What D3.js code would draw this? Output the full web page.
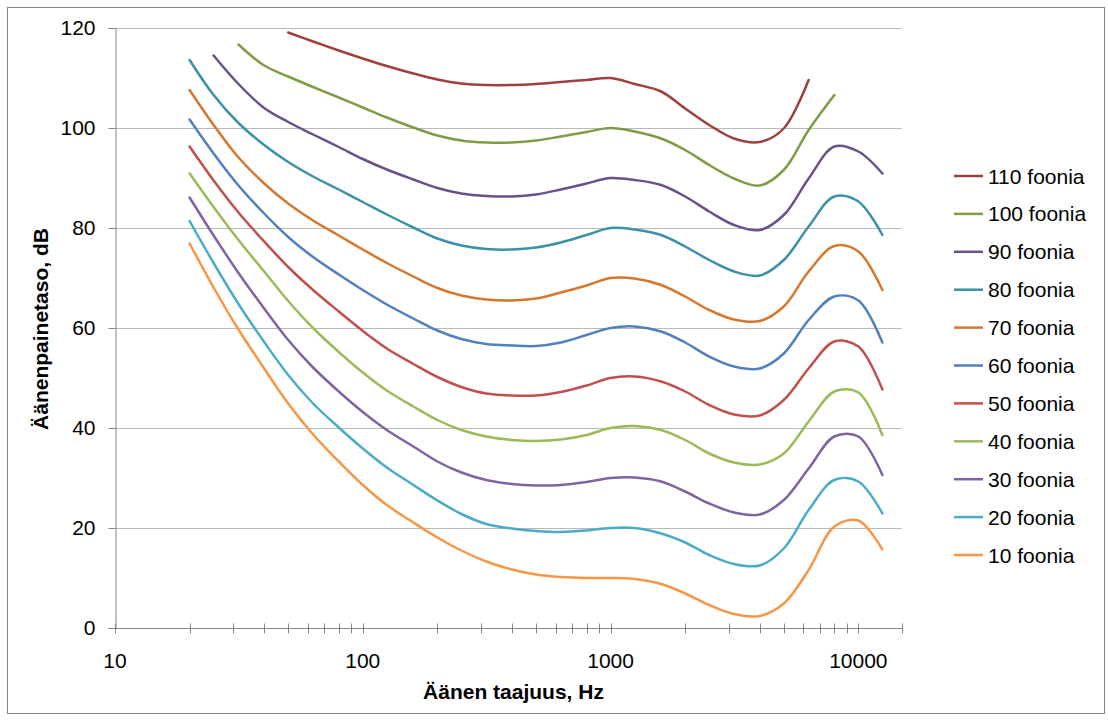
<!DOCTYPE html>
<html lang="fi">
<head>
<meta charset="UTF-8">
<title>Äänen kuuluvuuskäyrät</title>
<style>
  html, body { margin: 0; padding: 0; background: #fff; }
  svg { display: block; font-family: "Liberation Sans", Arial, sans-serif; }
</style>
</head>
<body>
<div id="chart"></div>
<script src="https://d3js.org/d3.v7.min.js"></script>
<script>
// taajuudet (Hz)
const freqs = [20, 25, 31.5, 40, 50, 63, 80, 100, 125, 160, 200, 250, 315, 400, 500, 630, 800,
               1000, 1250, 1600, 2000, 2500, 3150, 4000, 5000, 6300, 8000, 10000, 12500];

// äänenpainetaso (dB) kullekin foonikäyrälle
const phon110 = [null, null, null, null, 119.1, 117.3, 115.5, 113.9, 112.4, 110.9, 109.7, 108.9, 108.6, 108.6, 108.8, 109.2, 109.6,
                 110.0, 108.8, 107.3, 103.9, 100.6, 97.9, 97.2, 99.9, 109.6, null, null, null];
const phon100 = [null, null, 116.7, 112.5, 110.3, 108.2, 106.1, 104.1, 102.1, 100.1, 98.5, 97.5, 97.1, 97.1, 97.5, 98.3, 99.2,
                 100.0, 99.3, 97.9, 95.6, 92.6, 89.9, 88.5, 91.6, 99.6, 106.6, null, null];
const phon90 = [null, 114.5, 108.8, 104.0, 101.2, 98.7, 96.2, 93.8, 91.7, 89.7, 88.0, 86.9, 86.4, 86.3, 86.7, 87.7, 88.9,
                90.0, 89.6, 88.6, 86.3, 83.3, 80.6, 79.6, 82.6, 89.9, 96.3, 95.3, 90.9];
const phon80 = [113.6, 106.6, 101.0, 96.6, 93.2, 90.3, 87.7, 85.2, 82.7, 80.1, 77.9, 76.5, 75.8, 75.7, 76.1, 77.1, 78.6,
                80.0, 79.7, 78.6, 76.3, 73.6, 71.3, 70.5, 73.6, 80.3, 86.3, 85.3, 78.6];
const phon70 = [107.6, 100.6, 94.1, 88.9, 84.9, 81.5, 78.5, 75.7, 73.0, 70.3, 68.0, 66.5, 65.7, 65.5, 65.9, 67.1, 68.5,
                70.0, 69.9, 68.6, 66.3, 63.6, 61.7, 61.4, 64.3, 71.3, 76.4, 75.3, 67.6];
const phon60 = [101.7, 94.9, 88.5, 82.9, 78.2, 74.2, 70.7, 67.6, 64.7, 61.9, 59.5, 57.8, 56.8, 56.5, 56.4, 57.1, 58.6,
                60.0, 60.3, 59.3, 57.1, 54.3, 52.3, 51.9, 54.9, 61.6, 66.3, 65.5, 57.1];
const phon50 = [96.3, 89.5, 83.1, 77.3, 72.2, 67.6, 63.3, 59.4, 55.9, 52.8, 50.2, 48.2, 46.9, 46.5, 46.5, 47.2, 48.5,
                50.0, 50.3, 49.3, 47.3, 44.6, 42.7, 42.5, 45.6, 51.9, 57.3, 56.3, 47.7];
const phon40 = [90.9, 84.2, 77.6, 71.3, 65.4, 60.0, 55.2, 51.1, 47.5, 44.3, 41.6, 39.6, 38.3, 37.6, 37.4, 37.7, 38.6,
                40.0, 40.4, 39.6, 37.6, 34.9, 33.1, 32.7, 34.9, 41.3, 47.3, 47.1, 38.6];
const phon30 = [86.1, 78.5, 71.0, 63.9, 57.6, 52.1, 47.3, 43.2, 39.6, 36.3, 33.3, 31.1, 29.6, 28.8, 28.5, 28.6, 29.2,
                30.0, 30.1, 29.3, 27.3, 24.9, 23.1, 22.7, 25.6, 31.9, 38.3, 38.3, 30.6];
const phon20 = [81.4, 73.0, 64.8, 57.2, 50.6, 44.9, 40.1, 35.9, 32.1, 28.6, 25.5, 22.8, 20.8, 19.9, 19.4, 19.2, 19.5,
                20.0, 20.0, 18.9, 17.1, 14.6, 12.8, 12.5, 15.9, 23.6, 29.6, 29.3, 22.9];
const phon10 = [76.9, 68.1, 59.7, 51.9, 44.9, 38.7, 33.3, 28.6, 24.6, 21.1, 18.1, 15.5, 13.3, 11.7, 10.7, 10.2, 10.0,
                10.0, 9.8, 8.8, 6.9, 4.6, 2.8, 2.4, 4.9, 11.6, 20.3, 21.5, 15.7];

const seriesNames = ['110 foonia', '100 foonia', '90 foonia', '80 foonia', '70 foonia', '60 foonia',
                     '50 foonia', '40 foonia', '30 foonia', '20 foonia', '10 foonia'];
const seriesValues = [phon110, phon100, phon90, phon80, phon70, phon60, phon50, phon40, phon30, phon20, phon10];
const seriesColors = ['#a0403d', '#7e9c46', '#6a5189', '#3a91a8', '#d5782f', '#4f81bd',
                      '#c0504d', '#9bbb59', '#8064a2', '#4bacc6', '#f79646'];

const yTicks = [0, 20, 40, 60, 80, 100, 120];
const xLabels = [10, 100, 1000, 10000];

const width = 1108, height = 722;
const margin = { left: 115, top: 28, right: 206, bottom: 94 };

const svg = d3.select('#chart').append('svg')
  .attr('width', width)
  .attr('height', height);

// kehys
svg.append('rect')
  .attr('x', 7.5).attr('y', 7.5)
  .attr('width', 1097).attr('height', 706)
  .attr('fill', '#fff')
  .attr('stroke', '#868686')
  .attr('stroke-width', 1);

const x = d3.scaleLog()
  .domain([10, 15000])
  .range([margin.left, width - margin.right]);

const y = d3.scaleLinear()
  .domain([0, 120])
  .range([height - margin.bottom, margin.top]);

// vaakaviivat
svg.append('g')
  .selectAll('line')
  .data(yTicks.filter(d => d > 0))
  .join('line')
  .attr('x1', x.range()[0]).attr('x2', x.range()[1])
  .attr('y1', d => Math.round(y(d)) + 0.5).attr('y2', d => Math.round(y(d)) + 0.5)
  .attr('stroke', '#bababa')
  .attr('stroke-width', 1);

// y-akseli
const yAxis = d3.axisLeft(y)
  .tickValues(yTicks)
  .tickSize(7)
  .tickPadding(13)
  .tickFormat(d3.format('d'));

const gy = svg.append('g')
  .attr('transform', `translate(${margin.left + 0.5},0)`)
  .call(yAxis);
gy.select('.domain').attr('stroke', '#868686');
gy.selectAll('.tick line').attr('stroke', '#868686');
gy.selectAll('.tick text')
  .attr('fill', '#000')
  .style('font-size', '21px')
  .style('font-family', '"Liberation Sans", Arial, sans-serif');

// x-akseli, logaritminen
const minorTicks = [];
for (let dec = 10; dec <= 10000; dec *= 10) {
  for (let k = 1; k <= 9; k++) {
    if (dec * k <= 15000) minorTicks.push(dec * k);
  }
}
minorTicks.push(15000);

const gx = svg.append('g')
  .attr('transform', `translate(0,${y(0) + 0.5})`);
gx.append('line')
  .attr('x1', x.range()[0]).attr('x2', x.range()[1])
  .attr('stroke', '#868686');
gx.selectAll('line.tk')
  .data(minorTicks)
  .join('line')
  .attr('class', 'tk')
  .attr('x1', d => Math.round(x(d)) + 0.5).attr('x2', d => Math.round(x(d)) + 0.5)
  .attr('y1', -5).attr('y2', 5)
  .attr('stroke', '#868686');
gx.selectAll('text')
  .data(xLabels)
  .join('text')
  .attr('x', d => x(d))
  .attr('y', 39)
  .attr('text-anchor', 'middle')
  .style('font-size', '21px')
  .text(d => d);

// käyrät
const line = d3.line()
  .defined(d => d.v != null)
  .x(d => x(d.f))
  .y(d => y(d.v))
  .curve(d3.curveCatmullRom.alpha(0.5));

seriesValues.forEach((vals, i) => {
  const pts = freqs.map((f, j) => ({ f: f, v: vals[j] })).filter(d => d.v != null);
  svg.append('path')
    .datum(pts)
    .attr('d', line)
    .attr('fill', 'none')
    .attr('stroke', seriesColors[i])
    .attr('stroke-width', 2.5)
    .attr('stroke-linecap', 'round')
    .attr('stroke-linejoin', 'round');
});

// akselien otsikot
svg.append('text')
  .attr('x', (x.range()[0] + x.range()[1]) / 2 + 5)
  .attr('y', 699)
  .attr('text-anchor', 'middle')
  .style('font-size', '21px')
  .style('font-weight', 'bold')
  .text('Äänen taajuus, Hz');

svg.append('text')
  .attr('transform', 'translate(48,329) rotate(-90)')
  .attr('text-anchor', 'middle')
  .style('font-size', '21px')
  .style('font-weight', 'bold')
  .text('Äänenpainetaso, dB');

// selite
const legend = svg.append('g')
  .selectAll('g')
  .data(seriesNames)
  .join('g')
  .attr('transform', (d, i) => `translate(954,${176 + i * 37.9})`);
legend.append('line')
  .attr('x1', 0).attr('x2', 29)
  .attr('stroke', (d, i) => seriesColors[i])
  .attr('stroke-width', 2.5);
legend.append('text')
  .attr('x', 34)
  .attr('dy', '0.36em')
  .style('font-size', '21px')
  .text(d => d);
</script>
</body>
</html>
